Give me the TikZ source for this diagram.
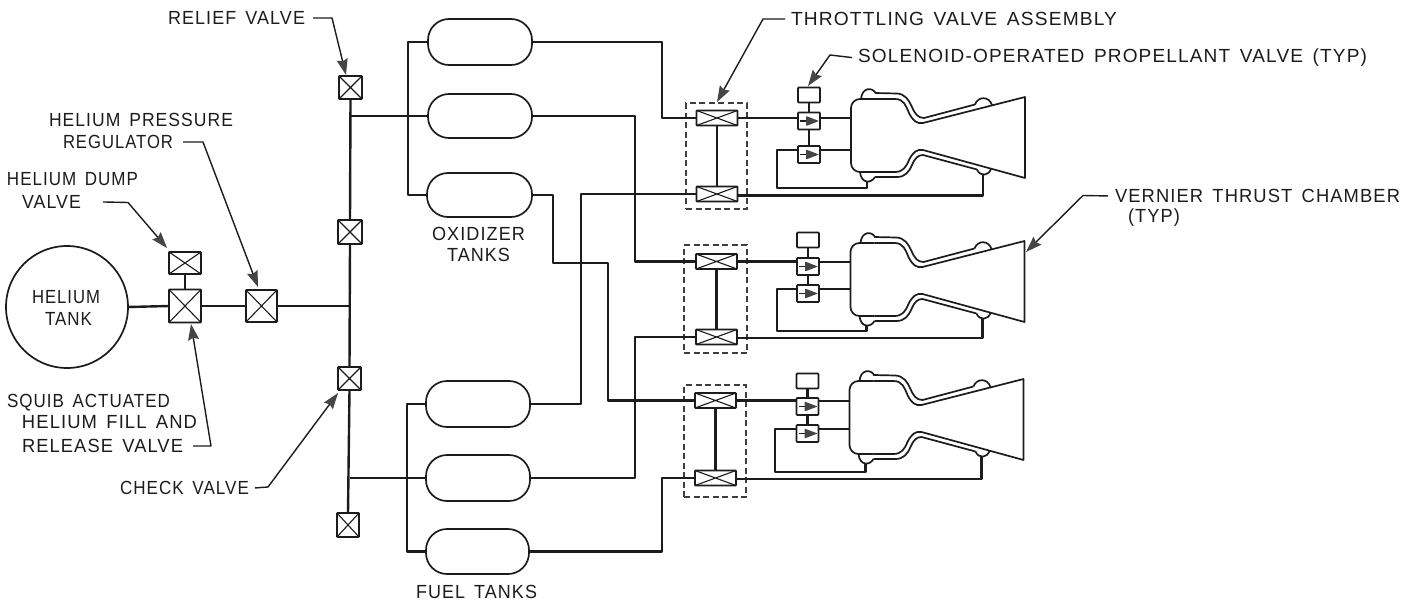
\documentclass[tikz,border=0pt]{standalone}
\usepackage{fontspec}
\usepackage{graphicx}
\setmainfont{Liberation Sans}[LetterSpace=6,WordSpace=1.5]
\usetikzlibrary{arrows.meta,calc}
\definecolor{ink}{HTML}{1C1C1C}
\definecolor{tipgray}{HTML}{454545}
\tikzset{
  pipe/.style={line width=2.4pt,draw=ink,line join=round},
  wall/.style={line width=1.7pt,draw=ink,line join=round},
  valve/.style={draw=ink,rectangle,line width=1.9pt,fill=white,inner sep=0pt,outer sep=0pt,rounded corners=0.8pt,
    path picture={\draw[line width=1.1pt,draw=ink] (path picture bounding box.north west)--(path picture bounding box.south east) (path picture bounding box.north east)--(path picture bounding box.south west);}},
  pvalve/.style={draw=ink,rectangle,line width=1.8pt,fill=white,inner sep=0pt,outer sep=0pt,minimum width=22pt,minimum height=17pt,rounded corners=0.8pt,
    path picture={\draw[line width=1.1pt,draw=ink] ([xshift=2pt]path picture bounding box.west)--(path picture bounding box.center);
      \fill[tipgray] ([xshift=-3pt]path picture bounding box.center) ++(0,5pt) -- ++(0,-10pt) -- ++(13pt,5pt) -- cycle;}},
  solbox/.style={draw=ink,rectangle,line width=1.8pt,fill=white,inner sep=0pt,outer sep=0pt,minimum width=22pt,minimum height=15pt,rounded corners=0.8pt},
  tank/.style={draw=ink,rectangle,line width=1.7pt,inner sep=0pt,outer sep=0pt,rounded corners=21pt},
  dashbox/.style={draw=ink!85,rectangle,line width=1.1pt,dash pattern=on 6pt off 3.5pt,inner sep=0pt,outer sep=0pt},
  lab/.style={anchor=base west,inner sep=0pt,outer sep=0pt,text=ink},
  leader/.style={line width=1.4pt,draw=ink,line join=round,-{Stealth[length=16pt,width=11pt,inset=2pt,fill=tipgray,color=tipgray]}},
}
\newcommand\lbl[5]{\node[lab] (#1) at (#2,#4+0.5) {\resizebox{\dimexpr#3pt-#2pt\relax}{\height}{\fontsize{19pt}{22pt}\selectfont #5}};}
\begin{document}
\begin{tikzpicture}[x=1pt,y=-1pt]
\useasboundingbox (0,0) rectangle (1417,605);
\fill[white] (0,0) rectangle (1417,605);

% helium side
\node[draw=ink,circle,line width=1.7pt,minimum size=122pt,inner sep=0pt,outer sep=0pt] (ht) at (67,307) {};
\node[valve,minimum width=32pt,minimum height=33pt] (fillv) at (185,306) {};
\node[valve,minimum width=32pt,minimum height=22pt] (dump) at (185,263) {};
\node[valve,minimum width=31pt,minimum height=32pt] (reg) at (261.5,306) {};
% main line valves
\node[valve,minimum width=23pt,minimum height=23pt] (rv) at (350.5,87.5) {};
\node[valve,minimum width=24pt,minimum height=24pt] (mv) at (350,232) {};
\node[valve,minimum width=23pt,minimum height=23pt] (cv) at (349.5,378.5) {};
\node[valve,minimum width=22pt,minimum height=24pt] (bv) at (348,525) {};
% tanks
\node[tank,minimum width=104pt,minimum height=46pt] (ox1) at (480,42) {};
\node[tank,minimum width=104pt,minimum height=44pt] (ox2) at (480,116) {};
\node[tank,minimum width=105pt,minimum height=44pt] (ox3) at (479.5,195) {};
\node[tank,minimum width=104pt,minimum height=46pt] (fu1) at (478,404) {};
\node[tank,minimum width=104pt,minimum height=46pt] (fu2) at (478,478) {};
\node[tank,minimum width=103pt,minimum height=45pt] (fu3) at (477.5,551.5) {};

\draw[pipe] (ht.east) -- (fillv.west);
\draw[pipe] (fillv.east) -- (reg.west);
\draw[pipe,line width=1.8pt] (fillv.north) -- (dump.south);
\draw[pipe] (reg.east) -- (reg.east -| mv.south);
\draw[pipe] (rv.south) -- (mv.north);
\draw[pipe] (mv.south) -- (cv.north);
\draw[pipe] (cv.south) -- (bv.north);
\draw[pipe] (ox2.west) -- (ox2.west -| rv.south);
\draw[pipe] (fu2.west) -- (fu2.west -| cv.south);
\draw[pipe] (ox1.west) -- (408,42) -- (408,195) -- (ox3.west);
\draw[pipe] (fu1.west) -- (407,404) -- (407,551.5) -- (fu3.west);

% engines
\foreach \Vn/\Vdx/\Vdy/\Vtx/\Vta/\Vtb/\Ddx/\Ddy/\Ddw/\Ddh/\Vc/\Vr/\Vp/\Vq/\Va/\Vb/\Vlx/\Vly/\Vlo in {
  1/0/0/717/118/194/716.5/156/61/106/809/95/121/154.5/118/150/777/188/195.5,
  2/-0.5/144/716.5/261.5/337/715.5/299/63/108/808/240/266.5/293.5/262/289/777/331/338,
  3/-1.5/282/715.5/400.5/478/715/441/62/112/807.5/381/406.5/433.5/401/429/775/472/479}{
  \begin{scope}[shift={(\Vdx,\Vdy)}]
    \coordinate (ew\Vn) at (851,135);
    \coordinate (bl\Vn) at (867,181);
    \coordinate (br\Vn) at (983,174);
    % chamber wall
    \draw[wall,rounded corners=9pt] (851,135) -- (851,99) -- (875,99);
    \draw[wall] (875,99) -- (895,99) .. controls (904,99) and (906,106) .. (909,113)
      .. controls (913,121) and (917,124) .. (923,123) -- (1025,97) -- (1025,178) -- (923,150)
      .. controls (917,149) and (913,152) .. (909,160) .. controls (906,167) and (903,172) .. (895,172) -- (875,172);
    \draw[wall,rounded corners=9pt] (875,172) -- (851,172) -- (851,135);
    % cooling jacket
    \draw[wall] (875,93) -- (897,93.5) .. controls (905,94) and (909,100) .. (912,107)
      .. controls (915,114) and (918,118) .. (924,118) -- (975,104.5);
    \draw[wall] (875,177) -- (897,177) .. controls (905,177) and (909,172) .. (912,165)
      .. controls (915,158) and (918,155) .. (923,155) -- (977,169.5);
    % manifold bumps
    \draw[wall] (861,99) .. controls (862,87.5) and (872,86.5) .. (876,93.5);
    \draw[wall] (975,104.5) .. controls (978,96) and (989,96) .. (992,105);
    \draw[wall] (860,172) .. controls (861,183.5) and (871,184) .. (875,177);
    \draw[wall] (977,169.5) .. controls (980,177) and (989,176) .. (991,168.7);
  \end{scope}
  \node[dashbox,minimum width=\Ddw pt,minimum height=\Ddh pt] (d\Vn) at (\Ddx,\Ddy) {};
  \node[valve,minimum width=41pt,minimum height=15pt] (ta\Vn) at (\Vtx,\Vta) {};
  \node[valve,minimum width=41pt,minimum height=15pt] (tb\Vn) at (\Vtx,\Vtb) {};
  \node[solbox] (sb\Vn) at (\Vc,\Vr) {};
  \node[pvalve] (pa\Vn) at (\Vc,\Vp) {};
  \node[pvalve] (pb\Vn) at (\Vc,\Vq) {};
  \coordinate (ja\Vn) at (\Vc,\Va);
  \coordinate (jb\Vn) at (\Vc,\Vb);
  \coordinate (lc\Vn) at (\Vlx,\Vly);
  \coordinate (ld\Vn) at (\Vlx,\Vb);
  \coordinate (le\Vn) at (\Vc,\Vlo);
  \draw[pipe] (ta\Vn.south) -- (tb\Vn.north);
  \draw[pipe] (ta\Vn.east) -- (ta\Vn.east -| pa\Vn.west);
  \draw[pipe] (jb\Vn -| pb\Vn.east) -- (jb\Vn -| ew\Vn);
  \draw[pipe] (ja\Vn -| pa\Vn.east) -- (ja\Vn -| ew\Vn);
  \draw[pipe] (sb\Vn.south) -- (pa\Vn.north);
  \draw[pipe] (pa\Vn.south) -- (pb\Vn.north);
  \draw[pipe] (bl\Vn) -- (bl\Vn |- lc\Vn) -- (lc\Vn) -- (ld\Vn) -- (ld\Vn -| pb\Vn.west);
  \draw[pipe] (br\Vn) -- (br\Vn |- le\Vn) -- (le\Vn -| tb\Vn.east);
}

% propellant pipes
\draw[pipe] (ox1.east) -- (662,42) -- (662,118) -- (ta1.west);
\draw[pipe] (ox2.east) -- (635,116) -- (635,261.5) -- (ta2.west);
\draw[pipe] (ox3.east) -- (553,195) -- (553,263) -- (608,263) -- (608,400.5) -- (ta3.west);
\draw[pipe] (fu1.east) -- (581,404) -- (581,194) -- (tb1.west);
\draw[pipe] (fu2.east) -- (635,478) -- (635,337) -- (tb2.west);
\draw[pipe] (fu3.east) -- (662,551.5) -- (662,478) -- (tb3.west);

% labels
\lbl{lrelief}{168}{305}{24}{RELIEF VALVE}
\lbl{lhp}{49}{233}{126}{HELIUM PRESSURE}
\lbl{lreg}{63}{173}{148}{REGULATOR}
\lbl{lhd}{7}{138}{185}{HELIUM DUMP}
\lbl{ldv}{22}{81}{208}{VALVE}
\lbl{lht}{32}{100}{303}{HELIUM}
\lbl{ltk}{45}{92}{325}{TANK}
\lbl{lsq}{7}{170}{407}{SQUIB ACTUATED}
\lbl{lhf}{22}{197}{428}{HELIUM FILL AND}
\lbl{lrv}{22}{183}{452}{RELEASE VALVE}
\lbl{lcv}{120}{249}{494}{CHECK VALVE}
\lbl{lox}{432}{525}{240}{OXIDIZER}
\lbl{ltn}{447}{510}{261}{TANKS}
\lbl{lfu}{416}{537}{598}{FUEL TANKS}
\lbl{lth}{791}{1117}{25}{THROTTLING VALVE ASSEMBLY}
\lbl{lso}{858}{1367}{62}{SOLENOID-OPERATED PROPELLANT VALVE (TYP)}
\lbl{lve}{1115}{1400}{202}{VERNIER THRUST CHAMBER}
\lbl{lty}{1128}{1180}{222}{(TYP)}

% leaders
\coordinate (tipRel) at (346,75);
\coordinate (tipReg) at (258,287);
\coordinate (tipDump) at (167,248);
\coordinate (tipFill) at (191,324);
\coordinate (tipChk) at (338,393);
\coordinate (tipThr) at (717,102);
\coordinate (tipSol) at (808,86);
\coordinate (tipVer) at (1026,252);
\draw[leader] ([xshift=8pt]lrelief.east) -- (332,18) -- (tipRel);
\draw[leader] ([xshift=10pt]lreg.east) -- (203,142) -- (tipReg);
\draw[leader] ([xshift=22pt]ldv.east) -- (128,202.5) -- (tipDump);
\draw[leader] ([xshift=10pt]lrv.east) -- (211,446) -- (tipFill);
\draw[leader] ([xshift=6pt]lcv.east) -- (268,487) -- (tipChk);
\draw[leader] ([xshift=-6pt]lth.west) -- (763,19) -- (tipThr);
\draw[leader] ([xshift=-6pt]lso.west) -- (830,55) -- (tipSol);
\draw[leader] ([xshift=-7pt]lve.west) -- (1083,195.5) -- (tipVer);
\end{tikzpicture}
\end{document}
